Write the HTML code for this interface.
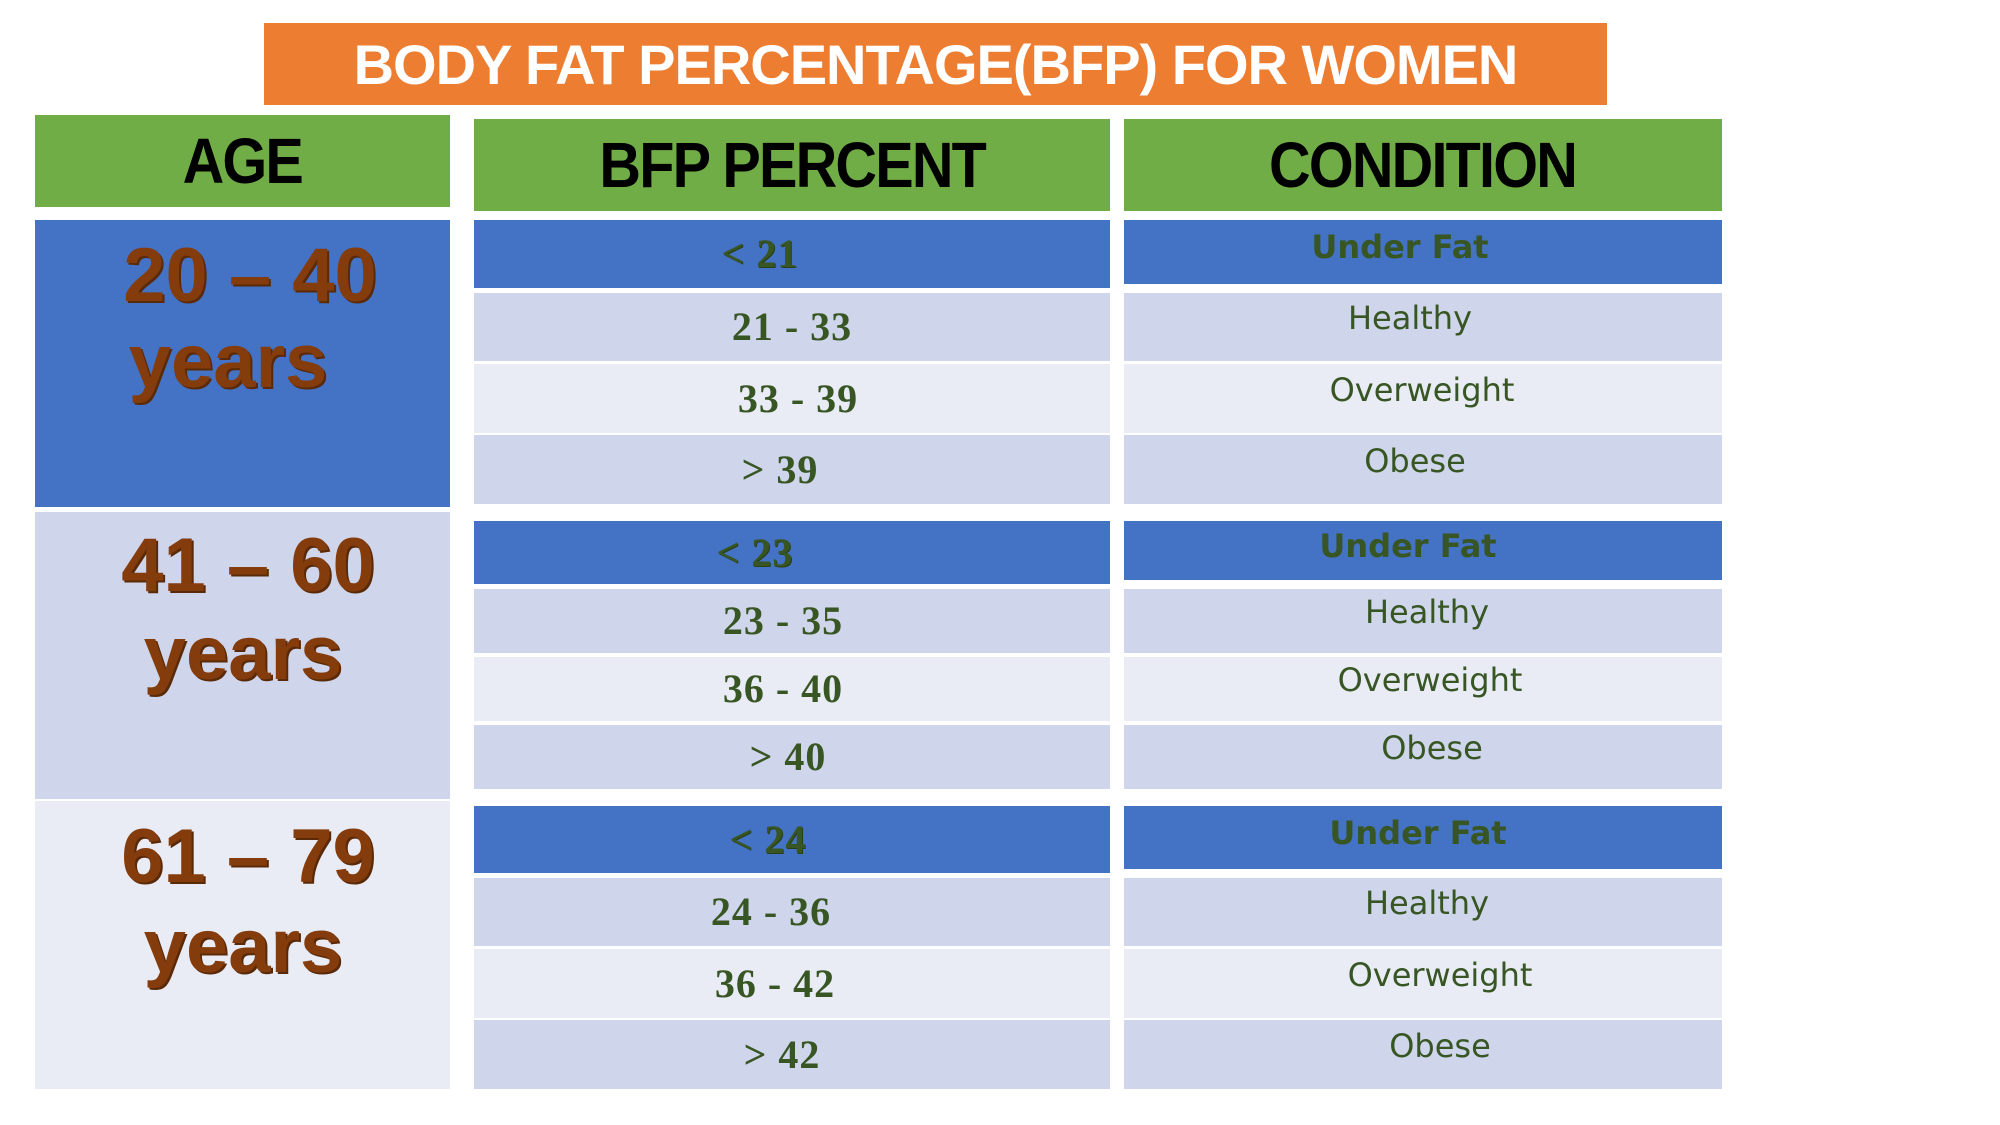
<!DOCTYPE html>
<html><head><meta charset="utf-8">
<style>
body{margin:0;width:2000px;height:1125px;background:#fff;position:relative;overflow:hidden;font-family:"Liberation Sans",sans-serif}
.b{position:absolute;box-sizing:border-box;display:flex;align-items:center;justify-content:center}
.t{position:absolute;white-space:nowrap;transform:translateX(-50%)}
.bfp{font-family:"Liberation Serif",serif;font-weight:bold;font-size:40px;color:#375623;letter-spacing:1px}
.cond{font-family:"DejaVu Sans","Liberation Sans",sans-serif;font-size:32px;color:#375623}
.hd{font-family:"Liberation Sans",sans-serif;font-weight:900;font-size:64px;color:#000;letter-spacing:-2px;transform:scaleX(0.9)}
.age{font-family:"Liberation Sans",sans-serif;font-weight:bold;font-size:76px;color:#843c0c;text-shadow:2px 2px 0 #5a2a08}
</style></head><body>
<div class="b" style="left:264px;top:23px;width:1343px;height:82px;background:#ed7d31;color:#fff;font-weight:bold;font-size:56px;letter-spacing:-1px">BODY FAT PERCENTAGE(BFP) FOR WOMEN</div>

<div class="b" style="left:35px;top:115px;width:415px;height:92px;background:#70ad47"><span class="hd">AGE</span></div>
<div class="b" style="left:474px;top:119px;width:636px;height:92px;background:#70ad47"><span class="hd">BFP PERCENT</span></div>
<div class="b" style="left:1124px;top:119px;width:598px;height:92px;background:#70ad47"><span class="hd">CONDITION</span></div>

<div class="b" style="left:35px;top:220px;width:415px;height:287px;background:#4472c4"></div>
<div class="b" style="left:35px;top:512px;width:415px;height:287px;background:#cfd5ea"></div>
<div class="b" style="left:35px;top:801px;width:415px;height:288px;background:#e9ebf5"></div>

<div class="t age" style="left:250px;top:232px">20 – 40</div>
<div class="t age" style="left:228px;top:318px">years</div>
<div class="t age" style="left:248px;top:522px">41 – 60</div>
<div class="t age" style="left:243px;top:610px">years</div>
<div class="t age" style="left:248px;top:813px">61 – 79</div>
<div class="t age" style="left:243px;top:903px">years</div>

<div id="rows"></div>
<script>
const bfpLabels=["<  21","21 - 33","33 - 39",">  39","<  23","23 - 35","36 - 40","> 40","< 24","24 - 36","36 - 42","> 42"];
const condLabels=["Under Fat","Healthy","Overweight","Obese","Under Fat","Healthy","Overweight","Obese","Under Fat","Healthy","Overweight","Obese"];
const rowTops=[220,293,364,435,521,589,657,725,806,878,949,1020];
const rowBots=[288,361,433,504,584,653,721,789,873,946,1018,1089];
const bfpX=[760,792,798,780,755,783,783,788,768,771,775,782];
const condX=[1400,1410,1422,1415,1408,1427,1430,1432,1418,1427,1440,1440];
const fills=["#4472c4","#cfd5ea","#e9ebf5","#cfd5ea"];
const host=document.getElementById('rows');
for(let i=0;i<12;i++){
  const h=rowBots[i]-rowTops[i];
  const bg=fills[i%4];
  const a=document.createElement('div');
  a.className='b';
  
  
  a.style.cssText=`left:474px;top:${rowTops[i]}px;width:636px;height:${h}px;background:${bg}`;
  host.appendChild(a);
  const at=document.createElement('div');
  at.className='t bfp';
  
  
  at.textContent=bfpLabels[i];
  at.style.left=bfpX[i]+'px';
  at.style.top=(rowTops[i]+h/2-24)+'px';
  if(i%4===0) at.style.textShadow='1px 1px 0 #2a4018';
  host.appendChild(at);
  const c=document.createElement('div');
  c.className='b';
  
  
  c.style.cssText=`left:1124px;top:${rowTops[i]}px;width:598px;height:${h-(i%4===0?4:0)}px;background:${bg}`;
  host.appendChild(c);
  const ct=document.createElement('div');
  ct.className='t cond';
  
  
  ct.textContent=condLabels[i];
  ct.style.left=condX[i]+'px';
  ct.style.top=(rowTops[i]+h/2-24-(i%4===0?2:4))+'px';
  if(i%4===0) ct.style.fontWeight='bold';
  host.appendChild(ct);
}
</script>
</body></html>
